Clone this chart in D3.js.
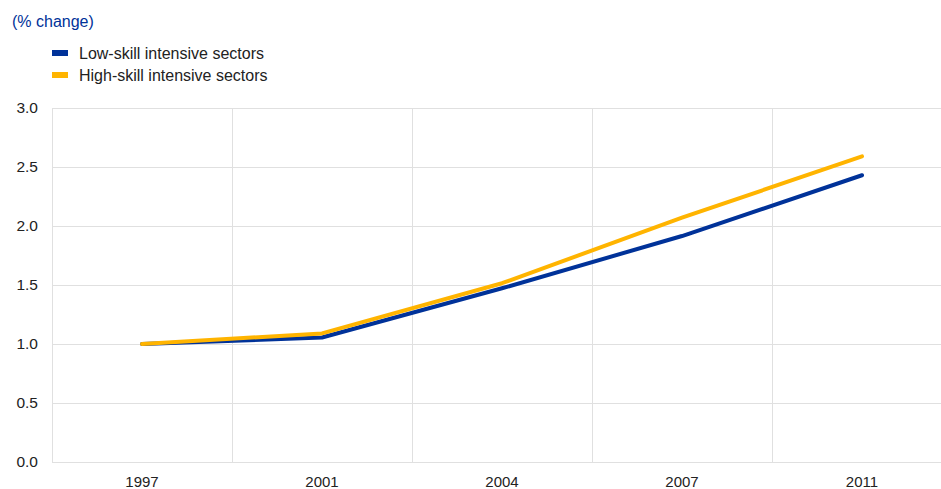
<!DOCTYPE html>
<html>
<head>
<meta charset="utf-8">
<script src="https://cdn.jsdelivr.net/npm/d3@7"></script>
<style>
  body { margin: 0; background: #fff; }
  text { font-family: "Liberation Sans", Arial, sans-serif; }
</style>
</head>
<body>
<div id="chart"></div>
<script>
var width = 941,
    height = 489;

var years = ["1997", "2001", "2004", "2007", "2011"];
var lowSkill = [1.0, 1.055, 1.472, 1.915, 2.43];
var highSkill = [1.0, 1.09, 1.515, 2.07, 2.59];
var yTicks = [0, 0.5, 1.0, 1.5, 2.0, 2.5, 3.0];

var series = [
  { name: "Low-skill intensive sectors", values: lowSkill, color: "#003299" },
  { name: "High-skill intensive sectors", values: highSkill, color: "#FFB400" }
];

var margin = { top: 108, left: 52, bottom: 27 };

var svg = d3.select("#chart")
    .append("svg")
    .attr("width", width)
    .attr("height", height);

var x = d3.scaleBand()
    .domain(years)
    .range([margin.left, margin.left + 5 * 180]);

var y = d3.scaleLinear()
    .domain([0, 3])
    .range([height - margin.bottom, margin.top]);

// grid
svg.append("g")
    .selectAll("line")
    .data(yTicks)
    .enter().append("line")
      .attr("x1", margin.left)
      .attr("x2", width)
      .attr("y1", function(d) { return Math.round(y(d)) + 0.5; })
      .attr("y2", function(d) { return Math.round(y(d)) + 0.5; })
      .attr("stroke", "#e0e0e0")
      .attr("stroke-width", 1);

var bounds = years.map(function(d) { return x(d); });
svg.append("g")
    .selectAll("line")
    .data(bounds)
    .enter().append("line")
      .attr("x1", function(d) { return Math.round(d) + 0.5; })
      .attr("x2", function(d) { return Math.round(d) + 0.5; })
      .attr("y1", y(3))
      .attr("y2", y(0))
      .attr("stroke", "#e0e0e0")
      .attr("stroke-width", 1);

// y labels
svg.append("g")
    .selectAll("text")
    .data(yTicks)
    .enter().append("text")
      .attr("x", 38)
      .attr("y", function(d) { return y(d) + 5; })
      .attr("text-anchor", "end")
      .attr("font-size", "15.5px")
      .attr("fill", "#222")
      .text(function(d) { return d.toFixed(1); });

// x labels
svg.append("g")
    .selectAll("text")
    .data(years)
    .enter().append("text")
      .attr("x", function(d) { return x(d) + x.bandwidth() / 2; })
      .attr("y", 487)
      .attr("text-anchor", "middle")
      .attr("font-size", "15px")
      .attr("fill", "#222")
      .text(function(d) { return d; });

// lines
var line = d3.line()
    .x(function(d, i) { return x(years[i]) + x.bandwidth() / 2; })
    .y(function(d) { return y(d); });

svg.append("g")
    .selectAll("path")
    .data(series)
    .enter().append("path")
      .attr("d", function(d) { return line(d.values); })
      .attr("fill", "none")
      .attr("stroke", function(d) { return d.color; })
      .attr("stroke-width", 4)
      .attr("stroke-linecap", "round")
      .attr("stroke-linejoin", "round");

// title
svg.append("text")
    .attr("x", 12)
    .attr("y", 27)
    .attr("font-size", "16px")
    .attr("fill", "#003299")
    .text("(% change)");

// legend
var legend = svg.append("g")
    .selectAll("g")
    .data(series)
    .enter().append("g")
      .attr("transform", function(d, i) { return "translate(52," + (53 + i * 22) + ")"; });

legend.append("rect")
    .attr("x", 0)
    .attr("y", -3)
    .attr("width", 16)
    .attr("height", 6)
    .attr("fill", function(d) { return d.color; });

legend.append("text")
    .attr("x", 27)
    .attr("y", 5.5)
    .attr("font-size", "16px")
    .attr("fill", "#222")
    .text(function(d) { return d.name; });
</script>
</body>
</html>
